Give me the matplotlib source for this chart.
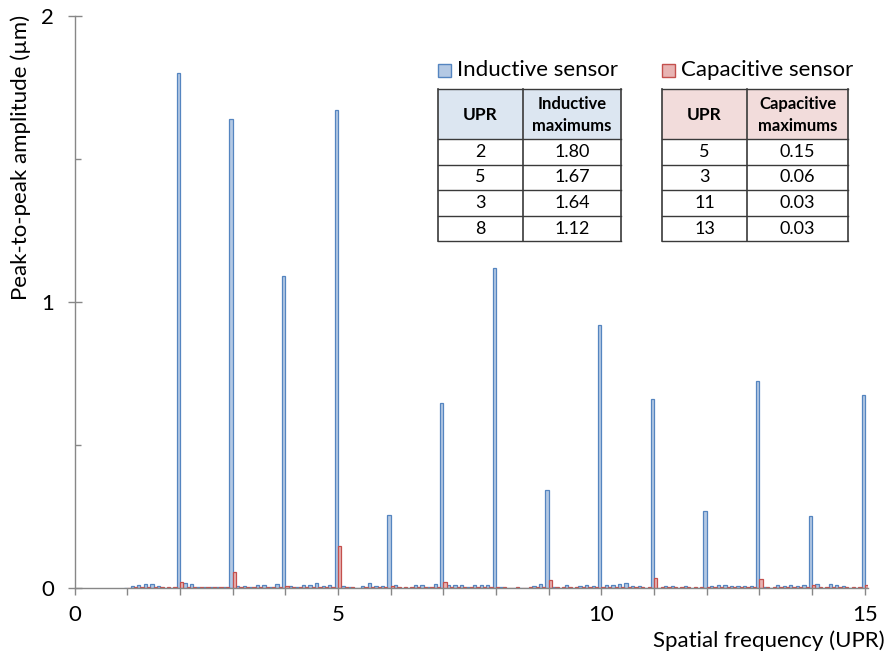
import numpy as np
import matplotlib.pyplot as plt
from matplotlib.patches import Rectangle

plt.rcParams["font.family"] = ["Lato", "DejaVu Sans"]

# spectrum bins every 1/8 UPR, from 1 to 15 UPR
freq = np.arange(1, 15.0001, 0.125)

# peak-to-peak amplitude (um), one row per UPR unit (8 bins each)
inductive = [
    0.001, 0.006, 0.009, 0.015, 0.013, 0.006, 0.001, 0.001,
    1.800, 0.018, 0.015, 0.005, 0.005, 0.005, 0.005, 0.005,
    1.640, 0.008, 0.008, 0.005, 0.011, 0.009, 0.005, 0.015,
    1.090, 0.008, 0.005, 0.012, 0.009, 0.016, 0.006, 0.009,
    1.670, 0.006, 0.005, 0.001, 0.008, 0.016, 0.006, 0.006,
    0.255, 0.009, 0.001, 0.001, 0.012, 0.009, 0.005, 0.015,
    0.647, 0.009, 0.012, 0.012, 0.005, 0.009, 0.011, 0.011,
    1.120, 0.005, 0.001, 0.001, 0.001, 0.001, 0.006, 0.013,
    0.343, 0.005, 0.001, 0.009, 0.001, 0.006, 0.009, 0.006,
    0.920, 0.009, 0.012, 0.013, 0.016, 0.006, 0.006, 0.001,
    0.660, 0.001, 0.006, 0.006, 0.001, 0.006, 0.001, 0.001,
    0.270, 0.008, 0.012, 0.012, 0.006, 0.006, 0.006, 0.006,
    0.724, 0.005, 0.001, 0.012, 0.006, 0.009, 0.006, 0.009,
    0.252, 0.013, 0.001, 0.015, 0.009, 0.006, 0.001, 0.001,
    0.675,
]
capacitive = [
    0.001, 0.002, 0.002, 0.002, 0.002, 0.002, 0.002, 0.002,
    0.020, 0.002, 0.002, 0.002, 0.002, 0.002, 0.002, 0.002,
    0.057, 0.002, 0.002, 0.002, 0.002, 0.002, 0.002, 0.002,
    0.006, 0.002, 0.002, 0.002, 0.002, 0.002, 0.002, 0.002,
    0.148, 0.002, 0.002, 0.001, 0.002, 0.002, 0.002, 0.002,
    0.007, 0.002, 0.002, 0.002, 0.002, 0.002, 0.002, 0.002,
    0.020, 0.002, 0.002, 0.002, 0.002, 0.002, 0.002, 0.002,
    0.005, 0.002, 0.001, 0.002, 0.001, 0.002, 0.002, 0.002,
    0.028, 0.002, 0.002, 0.002, 0.002, 0.002, 0.002, 0.002,
    0.004, 0.002, 0.002, 0.002, 0.002, 0.002, 0.002, 0.002,
    0.034, 0.002, 0.002, 0.002, 0.002, 0.002, 0.002, 0.002,
    0.005, 0.002, 0.002, 0.002, 0.002, 0.002, 0.002, 0.002,
    0.031, 0.002, 0.002, 0.002, 0.002, 0.002, 0.002, 0.002,
    0.009, 0.002, 0.002, 0.002, 0.002, 0.002, 0.002, 0.002,
    0.012,
]

ind_upr = [2, 5, 3, 8]
ind_max = [1.80, 1.67, 1.64, 1.12]
cap_upr = [5, 3, 11, 13]
cap_max = [0.15, 0.06, 0.03, 0.03]

BLUE_FILL, BLUE_EDGE, BLUE_HEAD = "#b4c9e4", "#5585c0", "#dce6f1"
RED_FILL, RED_EDGE, RED_HEAD = "#e8b4b3", "#c4504d", "#f2dcdb"
GRAY = "#878787"

W, H = 890, 654
fig = plt.figure(figsize=(W / 100, H / 100), dpi=100)
ax = fig.add_axes([74.6 / W, 1 - 588 / H, (868 - 74.6) / W, (588 - 16) / H])

w = 0.0625
ax.bar(freq - w / 2, inductive, width=w, color=BLUE_FILL, edgecolor=BLUE_EDGE, linewidth=0.9)
ax.bar(freq + w / 2, capacitive, width=w, color=RED_FILL, edgecolor=RED_EDGE, linewidth=0.9)

ax.set_xlim(0, 15.06)
ax.set_ylim(0, 2)
for s in ["top", "right"]:
    ax.spines[s].set_visible(False)
for s in ["left", "bottom"]:
    ax.spines[s].set_color(GRAY)
    ax.spines[s].set_linewidth(1.0)

ax.set_xticks(range(16))
ax.set_xticklabels([str(i) if i % 5 == 0 else "" for i in range(16)])
ax.tick_params(axis="x", direction="out", length=5, width=1, color=GRAY, pad=7, labelsize=16)
ax.set_yticks([0, 1, 2])
ax.set_yticks([0.5, 1.5], minor=True)
ax.tick_params(axis="y", which="major", direction="inout", length=9.5, width=1, color=GRAY,
               pad=10, labelsize=16)
ax.tick_params(axis="y", which="minor", direction="in", length=4.5, width=1, color=GRAY)

fig.text(21 / W, 1 - 157 / H, "Peak-to-peak amplitude (µm)", rotation=90,
         ha="center", va="center", fontsize=16)
fig.text(885 / W, 1 - 641 / H, "Spatial frequency (UPR)", ha="right", va="center", fontsize=16)

# legend + tables drawn in pixel coordinates on an overlay
ov = fig.add_axes([0, 0, 1, 1], facecolor="none")
ov.set_xlim(0, W)
ov.set_ylim(H, 0)
ov.axis("off")


def draw_block(x0, xs, x1, label, fill, edge, head, head2, upr, vals):
    ov.add_patch(Rectangle((x0, 64), 13, 13, facecolor=fill, edgecolor=edge, lw=1))
    ov.text(x0 + 19, 70, label, ha="left", va="center", fontsize=16)
    rows = [89, 139, 165, 190, 216, 241]
    ov.add_patch(Rectangle((x0, rows[0]), x1 - x0, rows[1] - rows[0], facecolor=head, lw=0))
    for y in rows:
        ov.plot([x0, x1], [y, y], color="#3a3a3a", lw=1)
    for x in [x0, xs, x1]:
        ov.plot([x, x], [rows[0], rows[-1]], color="#3a3a3a", lw=1.2)
    ov.text((x0 + xs) / 2, 115, "UPR", ha="center", va="center", fontsize=12.5, fontweight="bold")
    ov.text((xs + x1) / 2, 115, head2 + "\nmaximums", ha="center", va="center",
            fontsize=12, fontweight="bold", linespacing=1.4)
    for i, (u, v) in enumerate(zip(upr, vals)):
        yc = (rows[i + 1] + rows[i + 2]) / 2
        ov.text((x0 + xs) / 2, yc, str(u), ha="center", va="center", fontsize=13)
        ov.text((xs + x1) / 2, yc, f"{v:.2f}", ha="center", va="center", fontsize=13)


draw_block(438, 523, 621, "Inductive sensor", BLUE_FILL, BLUE_EDGE, BLUE_HEAD, "Inductive",
           ind_upr, ind_max)
draw_block(662, 747, 848, "Capacitive sensor", RED_FILL, RED_EDGE, RED_HEAD, "Capacitive",
           cap_upr, cap_max)

fig.savefig("out.png", dpi=100)
